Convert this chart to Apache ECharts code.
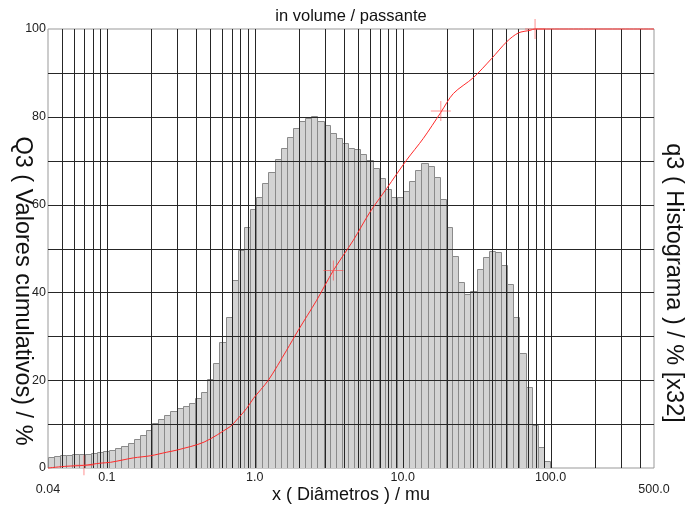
<!DOCTYPE html>
<html><head><meta charset="utf-8">
<script src="https://cdn.jsdelivr.net/npm/echarts/dist/echarts.min.js"></script>
<style>html,body{margin:0;padding:0;background:#fff}#c{width:686px;height:507px}</style>
</head><body><div id="c"></div>
<script>
// Histogram class edges (µm), 82 classes
const binEdges = [0.04,0.044,0.0484,0.05324,0.05856,0.06442,0.07086,0.07795,0.08574,0.09432,
0.1037,0.1141,0.1255,0.1381,0.1519,0.1671,0.1838,0.2022,0.2224,0.2446,
0.2691,0.2960,0.3256,0.3582,0.3940,0.4334,0.4767,0.5244,0.5768,0.6345,
0.6980,0.7678,0.8446,0.9290,1.0219,1.1241,1.2365,1.3602,1.4962,1.6458,
1.8104,1.9914,2.1905,2.4096,2.6506,2.9156,3.2072,3.5279,3.8807,4.2688,
4.6956,5.1652,5.6817,6.2499,6.8749,7.5624,8.3186,9.1505,10.066,11.072,
12.179,13.397,14.737,16.211,17.832,19.615,21.576,23.734,26.107,28.718,
31.590,34.749,38.224,42.046,46.251,50.876,55.963,61.560,67.716,74.487,
81.936,90.130,99.143];
// q3 histogram values (x32), one per class
const histValues = [2.6,2.7,2.85,2.85,3.1,3.1,3.3,3.5,3.6,3.8,
4.1,4.5,4.9,5.8,6.7,7.5,8.7,10.2,11.1,12.0,
12.9,13.7,14.2,14.9,15.9,17.2,20.2,24.0,28.6,34.5,
42.8,49.7,54.9,58.9,61.7,64.9,67.5,70.3,73.0,75.4,
77.4,79.1,79.8,80.2,79.1,78.2,76.2,75.2,74.1,73.0,
72.7,71.6,70.2,68.3,66.0,63.6,61.8,61.7,63.2,65.4,
67.9,69.4,68.9,66.2,61.2,54.8,48.4,42.4,39.6,40.4,
45.3,48.1,49.5,49.3,46.2,41.9,34.5,26.3,18.5,9.9,
4.85,1.6];
// Q3 cumulative curve
const cumX = [0.04,0.0535,0.07,0.09,0.106,0.151,0.198,0.254,0.299,0.454,0.68,0.716,0.882,0.977,1.235,1.64,1.97,2.62,3.40,4.64,6.01,7.80,10.6,13.8,18.1,22.0,30.0,40.0,50.5,60.5,72.6,78.5,500];
const cumY = [0.0,0.4,0.6,1.1,1.3,2.3,2.8,3.6,4.1,5.9,9.4,10.1,13.6,15.8,20.0,26.8,31.4,38.2,45.0,51.9,58.3,63.7,70.1,75.1,81.0,85.3,88.9,93.3,97.1,99.1,99.7,100,100];
// cross markers
const markerX = [0.07, 3.4, 18.1, 78.5];
const markerY = [0.6, 45.0, 81.3, 100];
// grid lines and tick labels
const gridXValues = [0.05,0.06,0.07,0.08,0.09,0.1,0.2,0.3,0.4,0.5,0.6,0.7,0.8,0.9,1,2,3,4,5,6,7,8,9,10,20,30,40,50,60,70,80,90,100,200,300,400];
const gridYValues = [10,20,30,40,50,60,70,80,90];
const xLabelValues = [0.04, 0.1, 1, 10, 100, 500];
const xLabelTexts = ['0.04','0.1','1.0','10.0','100.0','500.0'];
const yLabelValues = [0,20,40,60,80,100];

const histData = histValues.map((h,i)=>[binEdges[i], binEdges[i+1], h]);
const cumData = cumX.map((x,i)=>[x, cumY[i]]);
const markerData = markerX.map((x,i)=>[x, markerY[i]]);

const chart = echarts.init(document.getElementById('c'), null, {renderer:'canvas'});
const FONT = '"Liberation Sans", Arial, sans-serif';
chart.setOption({
  animation:false,
  backgroundColor:'#fff',
  grid:{left:48, right:32, top:29, bottom:39, show:true, borderColor:'#999', borderWidth:1, backgroundColor:'transparent'},
  xAxis:{type:'log', logBase:10, min:0.04, max:500,
    axisLine:{show:false}, axisTick:{show:false}, splitLine:{show:false},
    axisLabel:{show:true, margin:4, fontSize:12.5, lineHeight:12, color:'#222', fontFamily:FONT, showMinLabel:true, showMaxLabel:true, hideOverlap:false,
      formatter:function(v){
        const lv = Math.log10(v);
        for (let i=0;i<xLabelValues.length;i++){
          if (Math.abs(lv-Math.log10(xLabelValues[i]))<0.01){
            return (i===0||i===xLabelValues.length-1) ? '\n'+xLabelTexts[i] : xLabelTexts[i];
          }
        }
        return '';
      }}
  },
  yAxis:{type:'value', min:0, max:100, interval:10,
    axisLine:{show:false}, axisTick:{show:false}, splitLine:{show:false},
    axisLabel:{margin:2, fontSize:12.5, color:'#222', fontFamily:FONT, verticalAlign:'middle', lineHeight:12, padding:[0,0,8,0],
      formatter:function(v){ return yLabelValues.indexOf(v)>=0 ? String(v) : ''; }}
  },
  series:[
    {type:'custom', z:1, clip:true, data:histData, encode:{x:[0,1], y:2},
      renderItem:function(params, api){
        const p0 = api.coord([api.value(0), 0]);
        const p1 = api.coord([api.value(1), api.value(2)]);
        const x0 = Math.round(p0[0])+0.5, x1 = Math.round(p1[0])+0.5;
        const y0 = Math.round(p0[1])+0.5, y1 = Math.round(p1[1])+0.5;
        return {type:'rect', shape:{x:x0, y:y1, width:x1-x0, height:y0-y1},
          style:{fill:'#d3d3d3', stroke:'#8a8a8a', lineWidth:1}};
      }},
    {type:'custom', z:2, data:gridXValues.map(v=>[v]), encode:{x:0},
      renderItem:function(params, api){
        const p = api.coord([api.value(0), 0]);
        const q = api.coord([api.value(0), 100]);
        const x = Math.round(p[0])+0.5;
        return {type:'line', shape:{x1:x, y1:p[1], x2:x, y2:q[1]}, style:{stroke:'#262626', lineWidth:1}};
      }},
    {type:'custom', z:2, data:gridYValues.map(v=>[0.04, v]), encode:{x:0, y:1},
      renderItem:function(params, api){
        const p = api.coord([0.04, api.value(1)]);
        const q = api.coord([500, api.value(1)]);
        const y = Math.round(p[1])+0.5;
        return {type:'line', shape:{x1:p[0], y1:y, x2:q[0], y2:y}, style:{stroke:'#262626', lineWidth:1}};
      }},
    {type:'line', z:5, data:cumData, showSymbol:false, smooth:0.3, clip:false,
      lineStyle:{color:'#ff2a2a', width:1}},
    {type:'scatter', z:6, data:markerData, clip:false,
      symbol:'path://M0,9.5L20,9.5L20,10.5L0,10.5Z M9.5,0L10.5,0L10.5,20L9.5,20Z',
      symbolSize:20, itemStyle:{color:'rgba(255,70,70,0.75)'}}
  ],
  graphic:[
    {type:'text', style:{text:'in volume / passante', x:351, y:16, align:'center', verticalAlign:'middle', font:'16.5px '+FONT, fill:'#111'}},
    {type:'text', style:{text:'x ( Diâmetros ) / mu', x:351, y:495, align:'center', verticalAlign:'middle', font:'18px '+FONT, fill:'#111'}},
    {type:'text', x:22, y:291, rotation:-Math.PI/2, style:{text:'Q3 ( Valores cumulativos) / %', x:0, y:0, align:'center', verticalAlign:'middle', font:'23.5px '+FONT, fill:'#111'}},
    {type:'text', x:673, y:283, rotation:-Math.PI/2, style:{text:'q3 ( Histograma ) / % [x32]', x:0, y:0, align:'center', verticalAlign:'middle', font:'23.5px '+FONT, fill:'#111'}}
  ]
});
</script></body></html>
